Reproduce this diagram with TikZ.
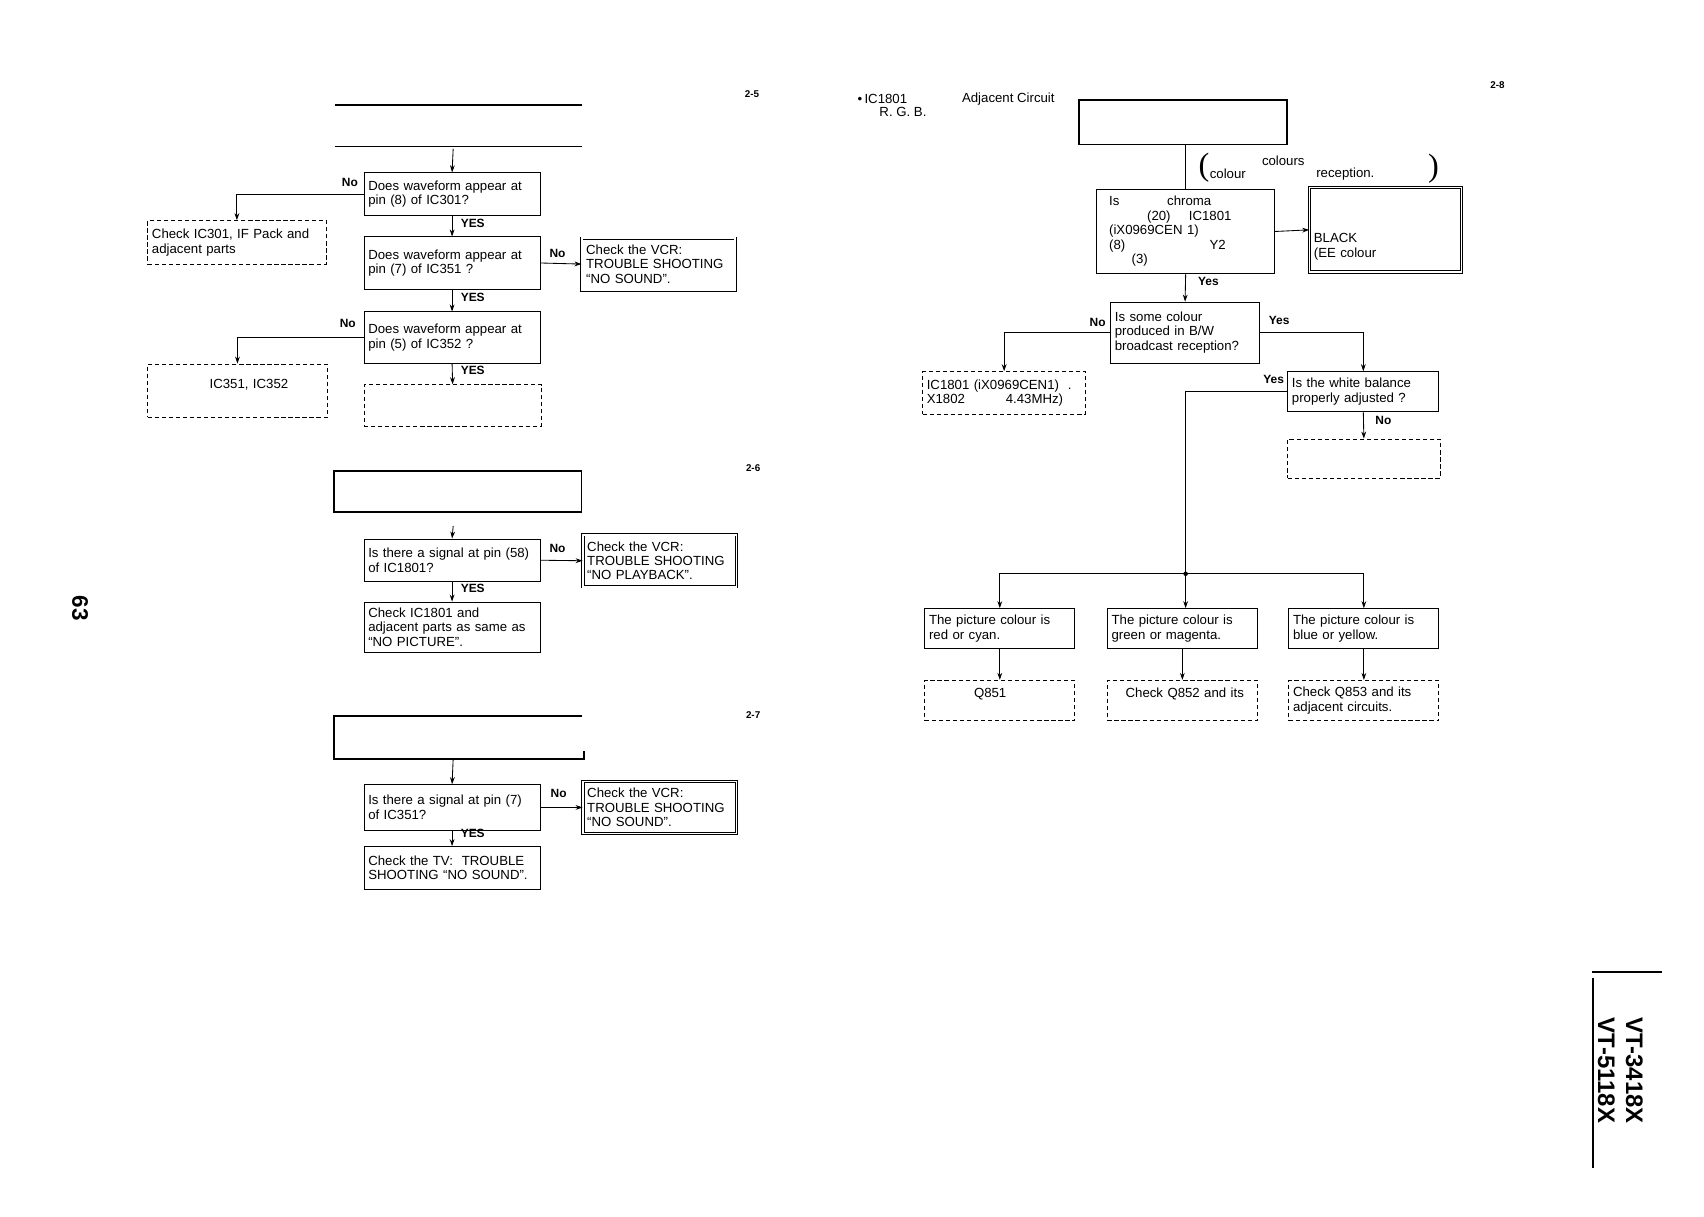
\documentclass[tikz,border=0pt]{standalone}
\usepackage{fontspec}
\setmainfont{Liberation Sans}
\newfontfamily\parenfont{Liberation Serif}
\usetikzlibrary{arrows.meta,calc,positioning}
\newcommand{\boxfont}{\fontsize{9.4}{10.3}\selectfont}
\newcommand{\tagfont}{\fontsize{8.5}{9}\selectfont\bfseries}

\begin{document}
\begin{tikzpicture}[x=0.027168cm, y=-0.027168cm,
  qbox/.style={draw, line width=0.6pt, align=left, font=\boxfont, text width=119.2pt, inner xsep=3pt, inner ysep=1pt},
  dbox/.style={qbox, dash pattern=on 3pt off 2pt},
  vbox/.style={qbox, double, line width=0.55pt, double distance=1.1pt, text width=103pt},
  hbox/.style={draw, line width=1.4pt, inner sep=0pt},
  arr/.style={-{Stealth[length=5pt,width=3.4pt]}, line width=0.6pt},
  link/.style={line width=0.6pt},
  tag/.style={font=\tagfont, inner sep=1pt},
  pagetag/.style={font=\fontsize{7}{7}\selectfont\bfseries, inner sep=0pt},
]
\useasboundingbox (0,0) rectangle (1568,1119);

% 2-5
\node[pagetag] (pg25) at (692,87) {2-5};
\draw[line width=1.4pt] (308,97) -- (536,97);
\draw[link] (308,135) -- (536,135);
\coordinate (t25) at (417,137);
\node[qbox, minimum height=30.2pt] (q1) at (416,178.5) {Does waveform appear at\\pin (8) of IC301?};
\node[dbox, text width=120.8pt, minimum height=30.9pt] (a1) at (218,223) {Check IC301, IF Pack and\\adjacent parts};
\node[qbox, minimum height=37.1pt] (q2) at (416,242) {Does waveform appear at\\pin (7) of IC351 ?};
\node[vbox, minimum height=37pt] (v1) at (606,243) {Check the VCR:\\TROUBLE SHOOTING\\“NO SOUND”.};
\node[qbox, minimum height=36.3pt] (q3) at (416,310.5) {Does waveform appear at\\pin (5) of IC352 ?};
\node[dbox, text width=121.6pt, minimum height=37.9pt] (a2) at (218.5,359.5) {\hspace*{41pt}IC351, IC352\\~};
\node[dbox, text width=120pt, minimum height=29.4pt] (a3) at (416.5,373) {};

\node[tag] (no1) at (322,168) {No};
\node[tag] (yes1) at (435,206) {YES};
\node[tag] (no2) at (513,233) {No};
\node[tag] (yes2) at (435,274) {YES};
\node[tag] (no3) at (320,298) {No};
\node[tag] (yes3) at (435,341) {YES};

\draw[arr] (t25) -- (q1.north);
\draw[arr] (q1.west) -| (a1.north);
\draw[arr] (q1.south) -- (q2.north);
\draw[arr] (q2.east) -- (v1.west);
\draw[arr] (q2.south) -- (q3.north);
\draw[arr] (q3.west) -| (a2.north);
\draw[arr] (q3.south) -- (a3.north);

% 2-6
\node[pagetag] (pg26) at (693,431) {2-6};
\node[hbox, minimum width=176.3pt, minimum height=29.4pt] (h26) at (421,452) {};
\coordinate (t26) at (417,484);
\node[qbox, minimum height=30.2pt] (q4) at (416,515.5) {Is there a signal at pin (58)\\of IC1801?};
\node[vbox, minimum height=37pt] (v2) at (607,516) {Check the VCR:\\TROUBLE SHOOTING\\“NO PLAYBACK”.};
\node[qbox, minimum height=35.6pt] (q5) at (416,577) {Check IC1801 and\\adjacent parts as same as\\“NO PICTURE”.};
\node[tag] (no4) at (513,505) {No};
\node[tag] (yes4) at (435,541) {YES};

\draw[arr] (t26) -- (q4.north);
\draw[arr] (q4.east) -- (v2.west);
\draw[arr] (q4.south) -- (q5.north);

% 2-7
\node[pagetag] (pg27) at (693,658) {2-7};
\draw[line width=1.4pt] (536,659) -- (307,659) -- (307,698) -- (537,698) -- (537,691);
\coordinate (t27) at (417,698);
\node[qbox, minimum height=32.5pt] (q6) at (416,743) {Is there a signal at pin (7)\\of IC351?};
\node[vbox, minimum height=37pt] (v3) at (607,743) {Check the VCR:\\TROUBLE SHOOTING\\“NO SOUND”.};
\node[qbox, minimum height=30.2pt] (q7) at (416,798.5) {Check the TV:\ \ TROUBLE\\SHOOTING “NO SOUND”.};
\node[tag] (no5) at (514,730) {No};
\node[tag] (yes5) at (435,767) {YES};

\draw[arr] (t27) -- (q6.north);
\draw[arr] (q6.east) -- (v3.west);
\draw[arr] (q6.south) -- (q7.north);

% 2-8
\node[pagetag] (pg28) at (1378,78) {2-8};
\node[anchor=west, font=\boxfont, inner sep=0pt] (lead1) at (789,91) {\textbullet\,IC1801};
\node[anchor=west, font=\boxfont, inner sep=0pt] (lead2) at (809,103) {R. G. B.};
\node[anchor=west, font=\boxfont, inner sep=0pt] (lead3) at (885,91) {Adjacent Circuit};
\node[hbox, line width=1.2pt, minimum width=147.7pt, minimum height=31.7pt] (h28) at (1088.5,112.5) {};

\node[font=\parenfont\fontsize{23}{23}\selectfont, inner sep=0pt] (p1) at (1108,154) {(};
\node[anchor=west, font=\boxfont, inner sep=0pt] (n1) at (1113,160) {colour};
\node[anchor=west, font=\boxfont, inner sep=0pt] (n2) at (1161,148) {colours};
\node[anchor=west, font=\boxfont, inner sep=0pt] (n3) at (1211,160) {reception.};
\node[font=\parenfont\fontsize{23}{23}\selectfont, inner sep=0pt] (p2) at (1319,155) {)};

\node[qbox, text width=108.8pt, inner xsep=9pt, minimum height=60.3pt] (c8) at (1091,213) {Is\hspace{34pt}chroma\\\hspace*{27pt}(20)\hspace{13pt}IC1801\\(iX0969CEN 1)\\(8)\hspace{60pt}Y2\\\hspace*{16pt}(3)};
\node[vbox, text width=102pt, minimum height=60pt] (b9) at (1275,211.5) {~\\~\\~\\BLACK\\(EE colour};
\node[qbox, text width=99.9pt, minimum height=43.3pt] (c10) at (1090.5,306) {Is some colour\\produced in B/W\\broadcast reception?};
\node[dbox, text width=110pt, minimum height=30.2pt] (d11) at (924,361.5) {IC1801 (iX0969CEN1)\ \ .\\X1802\hspace{29pt}4.43MHz)};
\node[qbox, text width=101.5pt, minimum height=28.6pt] (b12) at (1254.5,360.5) {Is the white balance\\properly adjusted ?};
\node[dbox, text width=102.2pt, minimum height=27.8pt] (d13) at (1255,422) {};
\coordinate (jn) at (1091,528);

\node[qbox, text width=100.7pt, minimum height=28.6pt] (r1) at (920,578.5) {The picture colour is\\red or cyan.};
\node[qbox, text width=100.7pt, minimum height=28.6pt] (r2) at (1088,578.5) {The picture colour is\\green or magenta.};
\node[qbox, text width=100.7pt, minimum height=28.6pt] (r3) at (1255,578.5) {The picture colour is\\blue or yellow.};
\node[dbox, text width=100.7pt, minimum height=28.6pt] (s1) at (920,644.5) {\hspace*{32pt}Q851\\~};
\node[dbox, text width=100.7pt, minimum height=28.6pt] (s2) at (1088,644.5) {\hspace*{10pt}Check Q852 and its\\~};
\node[dbox, text width=100.7pt, minimum height=28.6pt] (s3) at (1255,644.5) {Check Q853 and its\\adjacent circuits.};

\node[tag] (yes6) at (1112,259) {Yes};
\node[tag] (no6) at (1010,297) {No};
\node[tag] (yes7) at (1177,295) {Yes};
\node[tag] (yes8) at (1172,349) {Yes};
\node[tag] (no7) at (1273,387) {No};

\draw[link] (h28.south -| c8.north) -- (c8.north);
\draw[arr] (c8.east) -- (b9.west);
\draw[arr] (c8.south) -- (c10.north);
\draw[arr] (c10.west) -| (d11.north);
\draw[arr] (c10.east) -| (b12.north);
\draw[arr] (b12.south) -- (d13.north);
\draw[link] (b12.west) -| (jn);
\fill (jn) circle[radius=1.6pt];
\draw[arr] (jn) -| (r1.north);
\draw[arr] (jn) -- (jn |- r2.north);
\draw[arr] (jn) -| (r3.north);
\draw[arr] (r1.south) -- (s1.north);
\draw[arr] (r2.south) -- (s2.north);
\draw[arr] (r3.south) -- (s3.north);

% page margin marks
\node[rotate=-90, font=\fontsize{16}{16}\selectfont\bfseries] (pgno) at (73.6,559.5) {63};
\draw[line width=1.2pt] (1465,894.5) -- (1529,894.5);
\draw[line width=1.2pt] (1466,900) -- (1466,1075);
\node[rotate=-90, align=center, font=\fontsize{17}{20}\selectfont\bfseries] (model) at (1491,985) {VT-3418X\\VT-5118X};
\end{tikzpicture}
\end{document}
